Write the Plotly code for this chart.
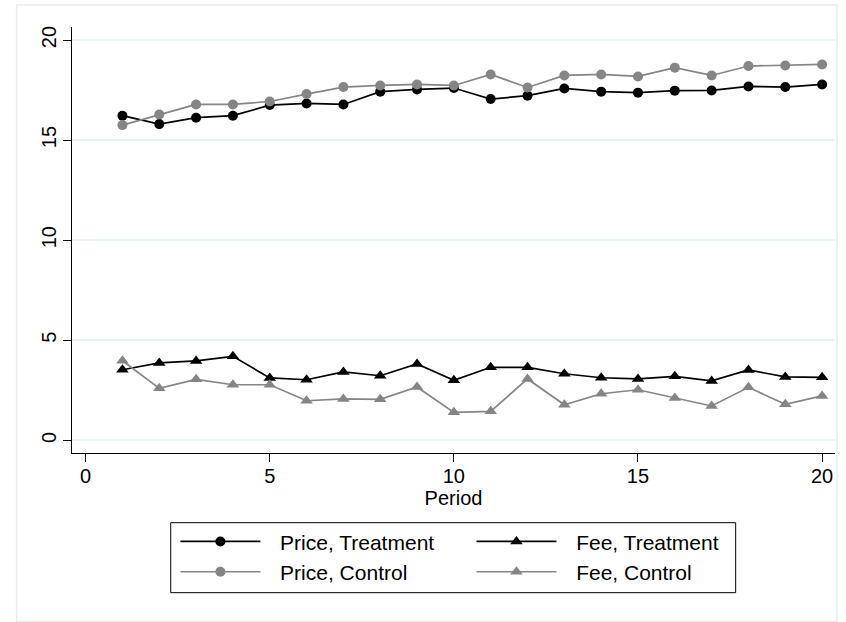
import plotly.graph_objects as go

period = list(range(1, 21))

price_treatment = [16.22, 15.80, 16.12, 16.22, 16.75, 16.83, 16.78, 17.42, 17.53, 17.60,
                   17.05, 17.22, 17.58, 17.42, 17.37, 17.47, 17.48, 17.68, 17.65, 17.78]
fee_treatment = [3.53, 3.87, 3.97, 4.20, 3.12, 3.03, 3.42, 3.23, 3.82, 3.00,
                 3.65, 3.65, 3.33, 3.13, 3.07, 3.20, 2.97, 3.52, 3.17, 3.15]
price_control = [15.75, 16.28, 16.78, 16.78, 16.93, 17.30, 17.65, 17.73, 17.78, 17.73,
                 18.28, 17.63, 18.23, 18.28, 18.18, 18.62, 18.23, 18.70, 18.73, 18.78]
fee_control = [3.98, 2.60, 3.05, 2.78, 2.78, 1.98, 2.07, 2.05, 2.67, 1.40,
               1.45, 3.07, 1.78, 2.33, 2.53, 2.12, 1.72, 2.65, 1.80, 2.22]

y_ticks = [0, 5, 10, 15, 20]
x_ticks = [0, 5, 10, 15, 20]

BLACK = "#000000"
GRAY = "#858585"
GRID = "#eaf2f3"
FONT = "Liberation Sans, Arial, sans-serif"
KEY_GAP = "\u2002\u2009"  # spacing between legend key and label

# (label, values, colour, marker, size, legend column)
series = [
    ("Price, Treatment", price_treatment, BLACK, "circle", 10, "legend"),
    ("Fee, Treatment", fee_treatment, BLACK, "triangle-up", 11, "legend2"),
    ("Price, Control", price_control, GRAY, "circle", 10, "legend"),
    ("Fee, Control", fee_control, GRAY, "triangle-up", 11, "legend2"),
]

fig = go.Figure()
for name, vals, color, symbol, size, leg in series:
    fig.add_trace(go.Scatter(
        x=period, y=vals, name=KEY_GAP + name, mode="lines+markers",
        line=dict(color=color, width=1.7),
        marker=dict(color=color, symbol=symbol, size=size, line=dict(width=0)),
        legend=leg,
    ))

legend_common = dict(
    orientation="v", xanchor="left", y=-0.1603, yanchor="top",
    borderwidth=0, bgcolor="rgba(0,0,0,0)", itemwidth=80,
    traceorder="normal", font=dict(family=FONT, size=21, color="black"),
)

fig.update_layout(
    width=846, height=622,
    margin=dict(l=72, r=11, t=27, b=169),
    paper_bgcolor="white", plot_bgcolor="white",
    font=dict(family=FONT, size=20, color="black"),
    showlegend=True,
    legend=dict(x=0.1355, **legend_common),
    legend2=dict(x=0.5235, **legend_common),
    xaxis=dict(
        range=[-0.37, 20.35], tickvals=x_ticks, ticks="outside", ticklen=8,
        tickcolor="black", showline=True, linecolor="black", linewidth=1,
        showgrid=False, zeroline=False, ticklabelstandoff=-3,
        title=dict(text="Period", standoff=0, font=dict(size=20)),
    ),
    yaxis=dict(
        range=[-0.63, 20.65], tickvals=y_ticks, ticks="outside", ticklen=8,
        tickcolor="black", showline=True, linecolor="black", linewidth=1,
        showgrid=True, gridcolor=GRID, gridwidth=1.5, zeroline=False,
        tickangle=-90, ticklabelstandoff=-1,
    ),
    shapes=[
        # outer graph region frame
        dict(type="rect", xref="paper", yref="paper",
             x0=-0.0726, x1=1.0026, y0=-0.3955, y1=1.0516,
             line=dict(color="#e6eef0", width=1.5), layer="below"),
        # legend frame
        dict(type="rect", xref="paper", yref="paper",
             x0=0.1294, x1=0.8698, y0=-0.3279, y1=-0.1636,
             line=dict(color="black", width=1), fillcolor="white", layer="below"),
    ],
)

fig.write_html("out.html")
